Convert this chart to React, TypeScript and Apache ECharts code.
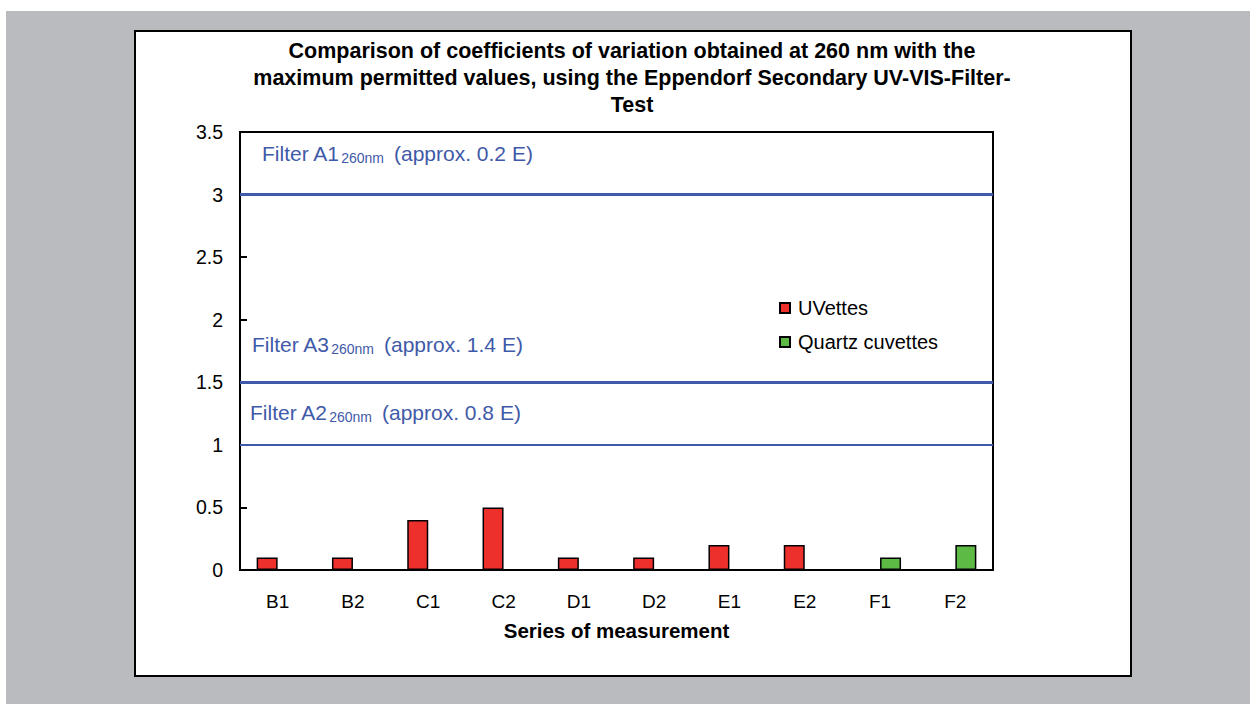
import React, { useEffect, useRef } from "react";
import * as echarts from "echarts";

const categories = ["B1", "B2", "C1", "C2", "D1", "D2", "E1", "E2", "F1", "F2"];
const uvettes: (number | string)[] = [0.1, 0.1, 0.4, 0.5, 0.1, 0.1, 0.2, 0.2, "-", "-"];
const quartz: (number | string)[] = ["-", "-", "-", "-", "-", "-", "-", "-", 0.1, 0.2];
const limitValues = [3, 1.5, 1];
const limitWidths = [3, 3, 2];
const filterLabels = [
  { name: "Filter A1", sub: "260nm", rest: "(approx. 0.2 E)" },
  { name: "Filter A3", sub: "260nm", rest: "(approx. 1.4 E)" },
  { name: "Filter A2", sub: "260nm", rest: "(approx. 0.8 E)" },
];
const titleLines = [
  "Comparison of coefficients of variation obtained at 260 nm with the",
  "maximum permitted values, using the Eppendorf Secondary UV-VIS-Filter-",
  "Test",
];

const FONT = "'Liberation Sans', Arial, Helvetica, sans-serif";
const BLUE = "#3f5aa8";

export default function App() {
  const ref = useRef<HTMLDivElement>(null);
  useEffect(() => {
    if (!ref.current) return;
    const chart = echarts.init(ref.current, undefined, { renderer: "svg" });
    const labelPos = [
      { x: 262, y: 141 },
      { x: 252, y: 332 },
      { x: 250, y: 400 },
    ];
    chart.setOption({
      animation: false,
      backgroundColor: "#ffffff",
      textStyle: { fontFamily: FONT },
      title: {
        text: titleLines.join("\n"),
        left: 632,
        top: 37,
        padding: 0,
        textAlign: "center",
        textStyle: {
          fontFamily: FONT,
          fontSize: 21.5,
          fontWeight: "bold",
          color: "#000",
          lineHeight: 27,
        },
      },
      legend: {
        orient: "vertical",
        left: 779,
        top: 298,
        padding: 0,
        itemWidth: 10,
        itemHeight: 10,
        itemGap: 14,
        icon: "rect",
        textStyle: { fontFamily: FONT, fontSize: 20, color: "#000", lineHeight: 20, padding: [0, 0, 0, 3] },
        data: ["UVettes", "Quartz cuvettes"],
      },
      grid: {
        left: 240,
        right: 257,
        top: 132,
        bottom: 134,
        show: true,
        borderColor: "#000",
        borderWidth: 2,
        backgroundColor: "transparent",
      },
      xAxis: {
        type: "category",
        data: categories,
        name: "Series of measurement",
        nameLocation: "middle",
        nameGap: 50,
        nameTextStyle: { fontFamily: FONT, fontSize: 20.5, fontWeight: "bold", color: "#000" },
        axisLine: { lineStyle: { color: "#000", width: 2 } },
        axisTick: { inside: true, length: 7, lineStyle: { color: "#000", width: 2 } },
        axisLabel: { fontFamily: FONT, fontSize: 19, color: "#000", margin: 22 },
      },
      yAxis: {
        type: "value",
        min: 0,
        max: 3.5,
        interval: 0.5,
        splitLine: { show: false },
        axisLine: { show: true, lineStyle: { color: "#000", width: 2 } },
        axisTick: { show: true, inside: true, length: 7, lineStyle: { color: "#000", width: 2 } },
        axisLabel: { fontFamily: FONT, fontSize: 19.5, color: "#000", margin: 17 },
      },
      series: [
        {
          name: "UVettes",
          type: "bar",
          data: uvettes,
          barWidth: 21,
          barGap: "0%",
          itemStyle: { color: "#ee302c", borderColor: "#000", borderWidth: 1.5 },
          markLine: {
            silent: true,
            symbol: "none",
            label: { show: false },
            data: limitValues.map((v, i) => ({
              yAxis: v,
              lineStyle: { color: BLUE, width: limitWidths[i], type: "solid" },
            })),
          },
        },
        {
          name: "Quartz cuvettes",
          type: "bar",
          data: quartz,
          barWidth: 21,
          barGap: "0%",
          itemStyle: { color: "#5dba45", borderColor: "#000", borderWidth: 1.5 },
        },
      ],
      graphic: [
        {
          type: "rect",
          z: -100,
          silent: true,
          shape: { x: 6, y: 11, width: 1244, height: 693 },
          style: { fill: "#babbbe" },
        },
        {
          type: "rect",
          z: -99,
          silent: true,
          shape: { x: 135, y: 31, width: 996, height: 645 },
          style: { fill: "#ffffff", stroke: "#000", lineWidth: 2 },
        },
        ...filterLabels.map((f, i) => ({
          type: "text",
          z: 100,
          x: labelPos[i].x,
          y: labelPos[i].y,
          style: {
            text: `{a|${f.name}}{s|${f.sub}}{r|${f.rest}}`,
            textVerticalAlign: "top",
            rich: {
              a: { fontFamily: FONT, fontSize: 21, lineHeight: 24, fill: BLUE, color: BLUE },
              s: { fontFamily: FONT, fontSize: 14, lineHeight: 13, verticalAlign: "bottom", fill: BLUE, color: BLUE, padding: [0, 0, 0, 1] },
              r: { fontFamily: FONT, fontSize: 21, lineHeight: 24, fill: BLUE, color: BLUE, padding: [0, 0, 0, 10] },
            },
          },
        })),
      ],
    });
    return () => chart.dispose();
  }, []);
  return (
    <div
      ref={ref}
      style={{ position: "fixed", left: 0, top: 0, width: 1250, height: 704 }}
    />
  );
}
